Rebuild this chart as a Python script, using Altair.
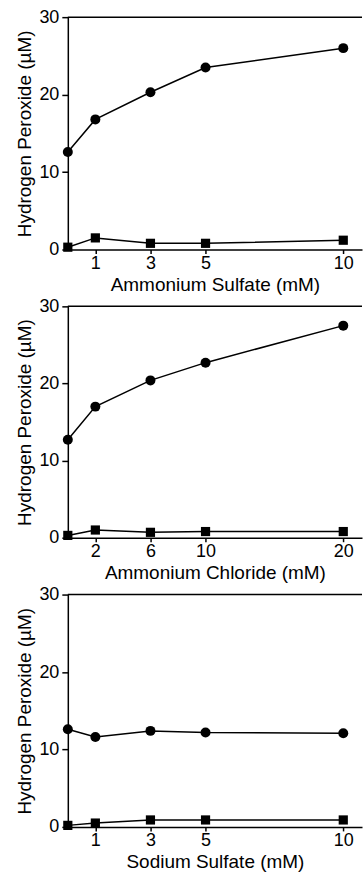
import altair as alt
import pandas as pd

# ---- data ----
conc_sulfate = [0, 1, 3, 5, 10]
conc_chloride = [0, 2, 6, 10, 20]
conc_sodium = [0, 1, 3, 5, 10]

amm_sulfate_circle = [12.6, 16.8, 20.3, 23.5, 26.0]
amm_sulfate_square = [0.3, 1.5, 0.8, 0.8, 1.2]

amm_chloride_circle = [12.7, 17.0, 20.4, 22.7, 27.5]
amm_chloride_square = [0.3, 1.0, 0.7, 0.8, 0.8]

sod_sulfate_circle = [12.6, 11.6, 12.4, 12.2, 12.1]
sod_sulfate_square = [0.2, 0.5, 0.9, 0.9, 0.9]

x_ticks_sulfate = [1, 3, 5, 10]
x_ticks_chloride = [2, 6, 10, 20]
y_ticks = [0, 5, 10, 15, 20, 25, 30]

titles = ["Ammonium Sulfate (mM)", "Ammonium Chloride (mM)", "Sodium Sulfate (mM)"]
y_title = "Hydrogen Peroxide (µM)"

FONT = "Liberation Sans"
W = 295


def make_df(xs, circ, sq):
    rows = []
    for x, c in zip(xs, circ):
        rows.append({"x": x, "y": c, "series": "circle"})
    for x, s in zip(xs, sq):
        rows.append({"x": x, "y": s, "series": "square"})
    return pd.DataFrame(rows)


def panel(df, xmax, xticks, xtitle, height):
    xenc = alt.X(
        "x:Q",
        scale=alt.Scale(domain=[0, xmax], nice=False, zero=True),
        axis=alt.Axis(values=xticks, title=xtitle, tickSize=4, labelPadding=1,
                      titlePadding=3, grid=False, format="d", labelFlush=False),
    )
    yenc = alt.Y(
        "y:Q",
        scale=alt.Scale(domain=[0, 30], nice=False),
        axis=alt.Axis(values=y_ticks, title=y_title, tickSize=6, labelPadding=3,
                      titlePadding=4, grid=False,
                      labelExpr="datum.value % 10 == 0 ? datum.label : ''"),
    )
    base = alt.Chart(df)
    line = base.mark_line(color="black", strokeWidth=1.5).encode(
        x=xenc, y=yenc, detail="series:N")
    pts = base.mark_point(filled=True, color="black", opacity=1).encode(
        x="x:Q", y="y:Q",
        shape=alt.Shape("series:N", scale=alt.Scale(domain=["circle", "square"],
                                                     range=["circle", "square"]),
                        legend=None),
        size=alt.Size("series:N", scale=alt.Scale(domain=["circle", "square"],
                                                   range=[100, 85]),
                      legend=None),
    )
    top = alt.Chart(pd.DataFrame({"y": [30]})).mark_rule(
        color="black", strokeWidth=1.5).encode(y="y:Q")
    return alt.layer(line, pts, top).properties(width=W, height=height)


p1 = panel(make_df(conc_sulfate, amm_sulfate_circle, amm_sulfate_square),
           10.68, x_ticks_sulfate, titles[0], 233)
p2 = panel(make_df(conc_chloride, amm_chloride_circle, amm_chloride_square),
           21.36, x_ticks_chloride, titles[1], 232)
p3 = panel(make_df(conc_sodium, sod_sulfate_circle, sod_sulfate_square),
           10.68, x_ticks_sulfate, titles[2], 233)

chart = alt.vconcat(p1, p2, p3, spacing=57, bounds="flush").properties(
    padding={"left": 15, "top": 7, "right": 0, "bottom": 0},
    background="white",
).configure_view(stroke=None).configure_axis(
    domainColor="black", domainWidth=1.5, tickColor="black", tickWidth=1.5,
    labelColor="black", titleColor="black", labelFont=FONT, titleFont=FONT,
    labelFontSize=18, titleFontSize=19, titleFontWeight="normal",
)

chart.save("out.html", embed_options={"renderer": "svg", "actions": False})
